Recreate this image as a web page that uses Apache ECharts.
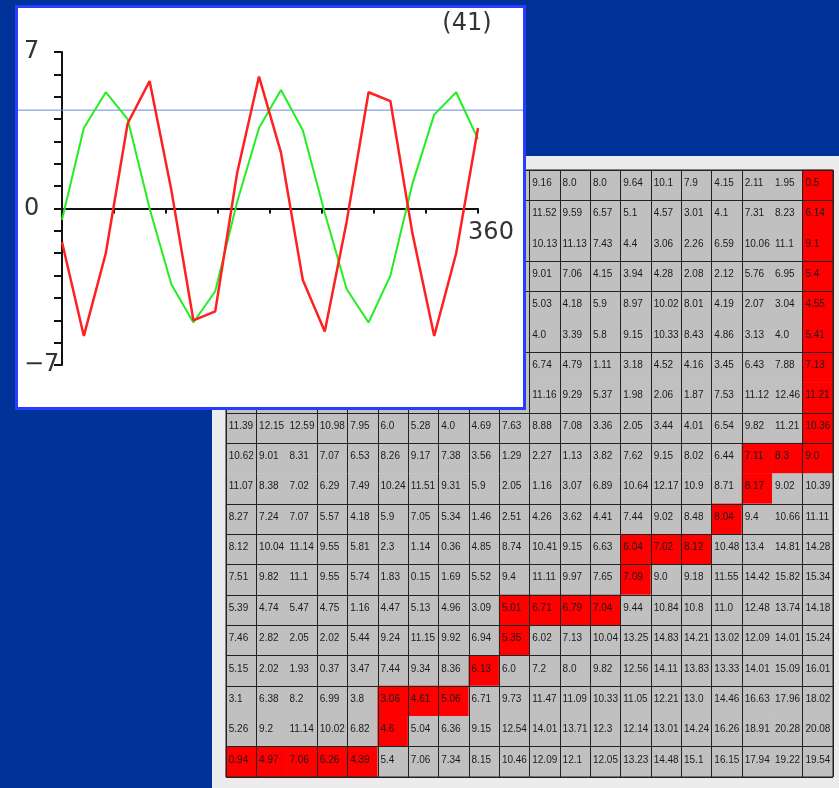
<!DOCTYPE html>
<html><head><meta charset="utf-8">
<script src="https://cdn.jsdelivr.net/npm/echarts@6/dist/echarts.min.js"></script>
<style>html,body{margin:0;padding:0;background:#003399;}#c{width:839px;height:788px;}</style>
</head><body><div id="c"></div>
<script>
// ---- line chart data ----
const sampleAngles = [0, 18.9, 37.9, 56.8, 75.8, 94.7, 113.7, 132.6, 151.6, 170.5, 189.5, 208.4, 227.4, 246.3, 265.3, 284.2, 303.2, 322.1, 341.1, 360];
const greenSeries = [-0.5, 3.6, 5.2, 4.0, 0.0, -3.4, -5.1, -3.7, 0.3, 3.6, 5.3, 3.5, -0.2, -3.6, -5.1, -3.0, 1.1, 4.2, 5.2, 3.1];
const redSeries = [-1.5, -5.7, -2.0, 3.8, 5.7, 0.8, -5.0, -4.6, 1.6, 5.9, 2.5, -3.2, -5.5, -0.6, 5.2, 4.8, -1.1, -5.7, -2.0, 3.6];
const thresholdLevel = 4.4;
const yTickLabels = [-7, 0, 7];
const xTickLabels = [360];
const stepLabel = '(41)';

// ---- cost matrix (rows top to bottom, cols left to right); null = hidden under the plot panel ----
const N = null;
const costRows = [
  [N,N,N,N,N,N,N,N,N,N, 9.16, 8.0, 8.0, 9.64, 10.1, 7.9, 4.15, 2.11, 1.95, 0.5],
  [N,N,N,N,N,N,N,N,N,N, 11.52, 9.59, 6.57, 5.1, 4.57, 3.01, 4.1, 7.31, 8.23, 6.14],
  [N,N,N,N,N,N,N,N,N,N, 10.13, 11.13, 7.43, 4.4, 3.06, 2.26, 6.59, 10.06, 11.1, 9.1],
  [N,N,N,N,N,N,N,N,N,N, 9.01, 7.06, 4.15, 3.94, 4.28, 2.08, 2.12, 5.76, 6.95, 5.4],
  [N,N,N,N,N,N,N,N,N,N, 5.03, 4.18, 5.9, 8.97, 10.02, 8.01, 4.19, 2.07, 3.04, 4.55],
  [N,N,N,N,N,N,N,N,N,N, 4.0, 3.39, 5.8, 9.15, 10.33, 8.43, 4.86, 3.13, 4.0, 5.41],
  [N,N,N,N,N,N,N,N,N,N, 6.74, 4.79, 1.11, 3.18, 4.52, 4.16, 3.45, 6.43, 7.88, 7.13],
  [N,N,N,N,N,N,N,N,N,N, 11.16, 9.29, 5.37, 1.98, 2.06, 1.87, 7.53, 11.12, 12.46, 11.21],
  [11.39, 12.15, 12.59, 10.98, 7.95, 6.0, 5.28, 4.0, 4.69, 7.63, 8.88, 7.08, 3.36, 2.05, 3.44, 4.01, 6.54, 9.82, 11.21, 10.36],
  [10.62, 9.01, 8.31, 7.07, 6.53, 8.26, 9.17, 7.38, 3.56, 1.29, 2.27, 1.13, 3.82, 7.62, 9.15, 8.02, 6.44, 7.11, 8.3, 9.0],
  [11.07, 8.38, 7.02, 6.29, 7.49, 10.24, 11.51, 9.31, 5.9, 2.05, 1.16, 3.07, 6.89, 10.64, 12.17, 10.9, 8.71, 8.17, 9.02, 10.39],
  [8.27, 7.24, 7.07, 5.57, 4.18, 5.9, 7.05, 5.34, 1.46, 2.51, 4.26, 3.62, 4.41, 7.44, 9.02, 8.48, 8.04, 9.4, 10.66, 11.11],
  [8.12, 10.04, 11.14, 9.55, 5.81, 2.3, 1.14, 0.36, 4.85, 8.74, 10.41, 9.15, 6.63, 6.04, 7.02, 8.12, 10.48, 13.4, 14.81, 14.28],
  [7.51, 9.82, 11.1, 9.55, 5.74, 1.83, 0.15, 1.69, 5.52, 9.4, 11.11, 9.97, 7.65, 7.09, 9.0, 9.18, 11.55, 14.42, 15.82, 15.34],
  [5.39, 4.74, 5.47, 4.75, 1.16, 4.47, 5.13, 4.96, 3.09, 5.01, 6.71, 6.79, 7.04, 9.44, 10.84, 10.8, 11.0, 12.48, 13.74, 14.18],
  [7.46, 2.82, 2.05, 2.02, 5.44, 9.24, 11.15, 9.92, 6.94, 5.35, 6.02, 7.13, 10.04, 13.25, 14.83, 14.21, 13.02, 12.09, 14.01, 15.24],
  [5.15, 2.02, 1.93, 0.37, 3.47, 7.44, 9.34, 8.36, 6.13, 6.0, 7.2, 8.0, 9.82, 12.56, 14.11, 13.83, 13.33, 14.01, 15.09, 16.01],
  [3.1, 6.38, 8.2, 6.99, 3.8, 3.06, 4.61, 5.06, 6.71, 9.73, 11.47, 11.09, 10.33, 11.05, 12.21, 13.0, 14.46, 16.63, 17.96, 18.02],
  [5.26, 9.2, 11.14, 10.02, 6.82, 4.6, 5.04, 6.36, 9.15, 12.54, 14.01, 13.71, 12.3, 12.14, 13.01, 14.24, 16.26, 18.91, 20.28, 20.08],
  [0.94, 4.97, 7.06, 6.26, 4.39, 5.4, 7.06, 7.34, 8.15, 10.46, 12.09, 12.1, 12.05, 13.23, 14.48, 15.1, 16.15, 17.94, 19.22, 19.54]
];
// warping path cells [row, col]
const pathCells = [
  [19,0],[19,1],[19,2],[19,3],[19,4],[18,5],[17,5],[17,6],[17,7],[16,8],[15,9],[14,9],
  [14,10],[14,11],[14,12],[13,13],[12,13],[12,14],[12,15],[11,16],[10,17],[9,17],[9,18],
  [9,19],[8,19],[7,19],[6,19],[5,19],[4,19],[3,19],[2,19],[1,19],[0,19]
];
const colNames = costRows[0].map((_, i) => String(i));
const rowNames = costRows.map((_, i) => String(i));
// grid lines that are not drawn in the reference (boundary index)
const hiddenColLines = [2, 18];
const hiddenRowLines = [2, 5, 7, 10, 18];

function fmt(v) { return Number.isInteger(v) ? v.toFixed(1) : String(v); }

const cells = [];
costRows.forEach((row, r) => row.forEach((v, c) => {
  const onPath = pathCells.some(p => p[0] === r && p[1] === c) ? 1 : 0;
  cells.push({ value: [c, r, v === null ? 0 : v, onPath], txt: v === null ? '' : fmt(v) });
}));

const chart = echarts.init(document.getElementById('c'), null, { renderer: 'canvas' });
const labelFont = 'DejaVu Sans';
const plotTop = 52, plotHeight = 313;
chart.setOption({
  animation: false,
  backgroundColor: '#003399',
  graphic: [
    { type: 'rect', z: 0, shape: { x: 212, y: 156, width: 627, height: 632 }, style: { fill: '#ececec' } },
    { type: 'rect', z: 10, shape: { x: 16.5, y: 6.5, width: 508, height: 402 }, style: { fill: '#ffffff', stroke: '#2a3cff', lineWidth: 3 } },
    { type: 'text', z: 12, x: 467, y: 24, style: { text: stepLabel, font: '24px "DejaVu Sans"', fill: '#333', textAlign: 'center', textVerticalAlign: 'middle' } }
  ],
  grid: [
    { left: 226, top: 170, width: 607, height: 607, show: true, borderColor: '#222', borderWidth: 1, backgroundColor: 'transparent', z: 3 },
    { left: 62, top: plotTop, width: 416, height: plotHeight, z: 11 },
    { left: 18, top: plotTop, width: 505, height: plotHeight, z: 11 }
  ],
  xAxis: [
    { type: 'category', gridIndex: 0, data: colNames, z: 3,
      axisLine: { show: false }, axisTick: { show: false }, axisLabel: { show: false },
      splitLine: { show: true, interval: (i) => !hiddenColLines.includes(i), lineStyle: { color: '#222', width: 1 } } },
    { type: 'value', gridIndex: 1, min: 0, max: 360, interval: 45, z: 11, position: 'bottom', offset: -plotHeight / 2,
      axisLine: { show: true, onZero: false, lineStyle: { color: '#111', width: 2 } },
      axisTick: { show: true, length: 5, lineStyle: { color: '#111', width: 2 } },
      axisLabel: { show: true, showMaxLabel: true, margin: 12, color: '#333', fontFamily: labelFont, fontSize: 24,
        formatter: (v) => xTickLabels.includes(v) ? '{a|' + v + '}' : '',
        rich: { a: { padding: [0, 0, 0, 26], fontSize: 24, fontFamily: labelFont, color: '#333' } } },
      splitLine: { show: false } },
    { type: 'value', gridIndex: 2, min: 0, max: 1, show: false }
  ],
  yAxis: [
    { type: 'category', gridIndex: 0, data: rowNames, inverse: true, z: 3,
      axisLine: { show: false }, axisTick: { show: false }, axisLabel: { show: false },
      splitLine: { show: true, interval: (i) => !hiddenRowLines.includes(i), lineStyle: { color: '#222', width: 1 } } },
    { type: 'value', gridIndex: 1, min: -7, max: 7, interval: 1, z: 11,
      axisLine: { show: true, onZero: false, lineStyle: { color: '#111', width: 2 } },
      axisTick: { show: true, length: 8, lineStyle: { color: '#111', width: 2 } },
      axisLabel: { show: true, showMinLabel: true, showMaxLabel: true, align: 'left', margin: 38, color: '#333', fontFamily: labelFont, fontSize: 24,
        formatter: (v) => yTickLabels.includes(v) ? String(v).replace('-', '\u2212') : '' },
      splitLine: { show: false } },
    { type: 'value', gridIndex: 2, min: -7, max: 7, show: false }
  ],
  visualMap: [{
    type: 'piecewise', show: false, dimension: 3, seriesIndex: 0,
    pieces: [{ value: 0, color: '#c0c0c0' }, { value: 1, color: '#ff0000' }]
  }],
  series: [
    { type: 'heatmap', xAxisIndex: 0, yAxisIndex: 0, z: 2, data: cells,
      itemStyle: { borderWidth: 0 },
      emphasis: { disabled: true },
      label: { show: true, position: 'insideLeft', distance: 3, offset: [0, -2], fontSize: 10, fontFamily: 'Liberation Sans', color: '#1a1a1a',
        formatter: (p) => p.data.txt } },
    { type: 'line', xAxisIndex: 2, yAxisIndex: 2, z: 11, symbol: 'none', silent: true,
      data: [[0, thresholdLevel], [1, thresholdLevel]], lineStyle: { color: '#6a88dd', width: 1 } },
    { type: 'line', xAxisIndex: 1, yAxisIndex: 1, z: 12, symbol: 'none',
      data: sampleAngles.map((a, i) => [a, greenSeries[i]]), lineStyle: { color: '#22ee22', width: 2 } },
    { type: 'line', xAxisIndex: 1, yAxisIndex: 1, z: 13, symbol: 'none',
      data: sampleAngles.map((a, i) => [a, redSeries[i]]), lineStyle: { color: '#ff2020', width: 2.5 } }
  ]
});
</script></body></html>
